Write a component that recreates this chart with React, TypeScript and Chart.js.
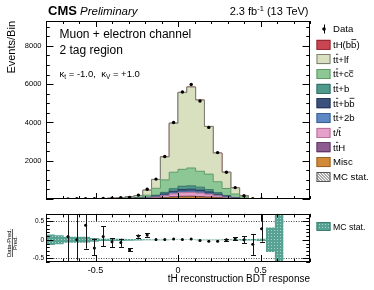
import React, { useEffect, useRef } from 'react';
import { Chart, registerables } from 'chart.js';

Chart.register(...registerables);

const FONT = '"Liberation Sans", Arial, Helvetica, sans-serif';

// ---- binning (categories) ----
const X_MIN = -0.8;
const X_MAX = 0.8;
const N_BINS = 30;

// ---- stacked backgrounds, events per bin (bottom -> top) ----
const misc = [0, 0, 0, 0, 0, 1, 2, 2, 3, 5, 9, 15, 31, 55, 86, 107, 110, 99, 79, 53, 30, 13, 4, 1, 0, 0, 0, 0, 0, 0];
const ttH = [0, 0, 0, 0, 0, 0, 0, 1, 1, 2, 3, 5, 10, 18, 27, 34, 35, 32, 25, 17, 9, 4, 1, 0, 0, 0, 0, 0, 0, 0];
const singleTop = [1, 1, 2, 2, 2, 3, 4, 5, 7, 11, 17, 30, 58, 102, 156, 194, 200, 180, 144, 96, 54, 24, 8, 1, 0, 0, 0, 0, 0, 0];
const tt2b = [0, 0, 0, 0, 0, 1, 1, 1, 2, 4, 6, 10, 20, 35, 55, 68, 70, 63, 50, 34, 19, 8, 3, 0, 0, 0, 0, 0, 0, 0];
const ttbb = [0, 0, 0, 0, 0, 1, 1, 2, 3, 5, 8, 14, 28, 50, 78, 97, 100, 90, 72, 48, 27, 12, 4, 0, 0, 0, 0, 0, 0, 0];
const ttb = [0, 0, 1, 1, 1, 2, 3, 4, 5, 9, 14, 24, 48, 85, 133, 165, 170, 153, 122, 82, 46, 20, 7, 1, 0, 0, 0, 0, 0, 0];
const ttcc = [0, 1, 1, 2, 2, 4, 5, 7, 12, 22, 40, 102, 365, 655, 865, 885, 935, 833, 808, 570, 365, 179, 83, 9, 1, 0.5, 0.3, 0, 0, 0];
const ttlf = [2, 4, 4, 6, 4, 14, 12, 22, 36, 65, 83, 260, 460, 1200, 2560, 4020, 4230, 3720, 2490, 1500, 850, 320, 60, 5, 1.3, 1, 0.7, 0, 0, 0];
const tHbb = [0, 0, 0, 0, 0, 0, 0, 0, 0, 0, 0, 1, 1, 2, 3, 3, 3, 3, 2, 2, 1, 1, 0, 0, 0, 0, 0, 0, 0, 0];

// ---- observed data ----
const dataCounts = [null, null, 8, 10, 12, 20, 30, 42, 65, 82, 205, 510, 1040, 2220, 4000, 5590, 5980, 5120, 3740, 2425, 1400, 595, 170, 15, 3, null, null, null, null, null];

// ---- ratio panel ----
const ratioValues = [null, null, 0.09, 0.0, 0.39, -0.22, 0.09, -0.05, -0.07, -0.27, 0.1, 0.13, 0.01, 0.01, 0.02, 0.01, 0.02, -0.02, -0.04, -0.04, 0.0, 0.03, 0.0, -0.12, 0.3, null, null, null, null, null];
const ratioErrUp = [null, null, 1.5, 1.0, 0.3, 0.25, 0.27, 0.1, 0.1, 0.04, 0.04, 0.045, 0.02, 0.015, 0.012, 0.01, 0.01, 0.012, 0.015, 0.02, 0.03, 0.04, 0.09, 0.28, 1.5, null, null, null, null, null];
const ratioErrDown = [null, null, 1.5, 0.56, 0.63, 0.19, 0.26, 0.15, 0.12, 0.04, 0.04, 0.045, 0.02, 0.015, 0.012, 0.01, 0.01, 0.012, 0.015, 0.02, 0.03, 0.04, 0.09, 0.29, 0.35, null, null, null, null, null];
const mcStatRel = [0.14, 0.12, 0.08, 0.08, 0.08, 0.05, 0.03, 0.03, 0.03, 0.025, 0.02, 0.015, 0.01, 0.01, 0.008, 0.008, 0.008, 0.01, 0.01, 0.01, 0.012, 0.015, 0.02, 0.02, 0.03, 0.33, 0.8, null, null, null];

// ---- tick labels ----
const mainYTicks = [2000, 4000, 6000, 8000];
const ratioXTicks = [-0.5, 0, 0.5];
const ratioYTicks = [-0.5, 0, 0.5];

const binWidth = (X_MAX - X_MIN) / N_BINS;
const binEdge = (i: number) => X_MIN + i * binWidth;
const binCenter = (i: number) => X_MIN + (i + 0.5) * binWidth;

function stepPoints(values: (number | null)[]) {
  const pts: { x: number; y: number }[] = [];
  let last = -1;
  for (let i = 0; i < values.length; i++) {
    const v = values[i];
    if (v == null) continue;
    pts.push({ x: binEdge(i), y: v });
    last = i;
  }
  if (last >= 0) pts.push({ x: binEdge(last + 1), y: values[last] as number });
  return pts;
}

const stackOrder = [
  { label: 'Misc', values: misc, fill: '#d1893a', line: '#9a6128', bars: [] as number[] },
  { label: 'ttH', values: ttH, fill: '#8c5b91', line: '#5f3c64', bars: [1] },
  { label: 't/t', values: singleTop, fill: '#e5a1ca', line: '#b47397', bars: [2] },
  { label: 'tt+2b', values: tt2b, fill: '#5c88c4', line: '#3e6091', bars: [1] },
  { label: 'tt+bb', values: ttbb, fill: '#3b527d', line: '#27375a', bars: [1, 4] },
  { label: 'tt+b', values: ttb, fill: '#4f9a8b', line: '#356e63', bars: [1] },
  { label: 'tt+cc', values: ttcc, fill: '#8ec796', line: '#5f9a67', bars: [1, 4] },
  { label: 'tt+lf', values: ttlf, fill: '#d9e0c0', line: '#7d8076', bars: [1] },
  { label: 'tH(bb)', values: tHbb, fill: '#c94552', line: '#8f2c35', bars: [4] },
];

function drawBarredText(ctx: CanvasRenderingContext2D, text: string, bars: number[], x: number, y: number, fs: number) {
  ctx.fillText(text, x, y);
  ctx.save();
  ctx.lineWidth = 0.8;
  ctx.strokeStyle = '#000';
  for (const i of bars) {
    const x0 = x + ctx.measureText(text.slice(0, i)).width;
    const w = ctx.measureText(text[i]).width;
    const tall = 'tbdhklfBH'.includes(text[i]);
    const yb = y - fs * (tall ? 0.88 : 0.68);
    ctx.beginPath();
    ctx.moveTo(x0 + 0.3, yb);
    ctx.lineTo(x0 + w - 0.2, yb);
    ctx.stroke();
  }
  ctx.restore();
}

function drawInnerTicks(
  ctx: CanvasRenderingContext2D, chart: any,
  xVals: { v: number; major: boolean }[], yVals: { v: number; major: boolean }[],
  xLen: [number, number], yLen: [number, number]
) {
  const a = chart.chartArea;
  const xs = chart.scales.x;
  const ys = chart.scales.y;
  ctx.save();
  ctx.strokeStyle = '#000';
  ctx.lineWidth = 1;
  ctx.beginPath();
  for (const t of xVals) {
    const px = Math.round(xs.getPixelForValue(t.v)) + 0.5;
    const l = t.major ? xLen[0] : xLen[1];
    ctx.moveTo(px, a.bottom); ctx.lineTo(px, a.bottom - l);
    ctx.moveTo(px, a.top); ctx.lineTo(px, a.top + l);
  }
  for (const t of yVals) {
    const py = Math.round(ys.getPixelForValue(t.v)) + 0.5;
    const l = t.major ? yLen[0] : yLen[1];
    ctx.moveTo(a.left, py); ctx.lineTo(a.left + l, py);
    ctx.moveTo(a.right, py); ctx.lineTo(a.right - l, py);
  }
  ctx.stroke();
  ctx.strokeRect(Math.round(a.left) + 0.5, Math.round(a.top) + 0.5, Math.round(a.right - a.left) - 1, Math.round(a.bottom - a.top) - 1);
  ctx.restore();
}

const xTickList = () => {
  const out: { v: number; major: boolean }[] = [];
  for (let k = -8; k <= 8; k++) out.push({ v: k / 10, major: k % 5 === 0 });
  return out;
};

const mainDeco = {
  id: 'mainDeco',
  afterDraw(chart: any) {
    const ctx: CanvasRenderingContext2D = chart.ctx;
    const yList: { v: number; major: boolean }[] = [];
    for (let k = 0; k <= 18; k++) yList.push({ v: k * 500, major: k % 4 === 0 });
    drawInnerTicks(ctx, chart, xTickList(), yList, [6, 3], [7.5, 3.75]);

    ctx.save();
    ctx.fillStyle = '#000';
    ctx.textBaseline = 'alphabetic';
    ctx.textAlign = 'left';
    ctx.font = `bold 13px ${FONT}`;
    ctx.fillText('CMS', 48, 15);
    ctx.font = `italic 11.5px ${FONT}`;
    ctx.fillText('Preliminary', 80, 15);

    // luminosity
    const big = `11px ${FONT}`;
    const small = `7.5px ${FONT}`;
    ctx.font = big;
    const w1 = ctx.measureText('2.3 fb').width;
    const w3 = ctx.measureText(' (13 TeV)').width;
    ctx.font = small;
    const w2 = ctx.measureText('-1').width;
    let lx = 308.5 - (w1 + w2 + w3);
    ctx.font = big; ctx.fillText('2.3 fb', lx, 15); lx += w1;
    ctx.font = small; ctx.fillText('-1', lx, 10.5); lx += w2;
    ctx.font = big; ctx.fillText(' (13 TeV)', lx, 15);

    // in-frame labels
    ctx.font = `12px ${FONT}`;
    ctx.fillText('Muon + electron channel', 59.5, 37.5);
    ctx.fillText('2 tag region', 59.5, 53.5);
    const segs: [string, number, number][] = [
      ['κ', 9.5, 0], ['t', 6.5, 2.5], [' = -1.0,  κ', 9.5, 0], ['V', 6.5, 2.5], [' = +1.0', 9.5, 0],
    ];
    let kx = 59.5;
    for (const [s, f, dy] of segs) {
      ctx.font = `${f}px ${FONT}`;
      ctx.fillText(s, kx, 76.5 + dy);
      kx += ctx.measureText(s).width;
    }

    // legend
    const lf = 9.6;
    ctx.font = `${lf}px ${FONT}`;
    const bx = 316.5;
    const tx = 333;
    // Data
    ctx.beginPath();
    ctx.arc(324, 29, 1.8, 0, Math.PI * 2);
    ctx.fill();
    ctx.beginPath();
    ctx.lineWidth = 1;
    ctx.strokeStyle = '#000';
    ctx.moveTo(324.5, 24.5); ctx.lineTo(324.5, 33.5);
    ctx.stroke();
    ctx.fillText('Data', tx, 29 + lf * 0.35);
    const entries = [...stackOrder].reverse();
    entries.forEach((e, i) => {
      const yc = 30 + (i + 1) * 14.68;
      ctx.fillStyle = e.fill;
      ctx.fillRect(bx, yc - 5, 14, 10);
      ctx.strokeStyle = e.line;
      ctx.lineWidth = 1;
      ctx.strokeRect(bx + 0.5, Math.round(yc - 5) + 0.5, 13, 9);
      ctx.fillStyle = '#000';
      drawBarredText(ctx, e.label, e.bars, tx, yc + lf * 0.35, lf);
    });
    // MC stat hatch
    const yc = 30 + 10 * 14.68;
    const y0 = Math.round(yc - 5);
    ctx.fillStyle = '#fff';
    ctx.fillRect(bx, y0, 14, 10);
    ctx.save();
    ctx.beginPath(); ctx.rect(bx, y0, 14, 10); ctx.clip();
    ctx.strokeStyle = '#333';
    ctx.lineWidth = 0.8;
    ctx.beginPath();
    for (let k = -12; k < 16; k += 3) {
      ctx.moveTo(bx + k, y0); ctx.lineTo(bx + k + 10, y0 + 10);
    }
    ctx.stroke();
    ctx.restore();
    ctx.strokeStyle = '#555';
    ctx.lineWidth = 1;
    ctx.strokeRect(bx + 0.5, y0 + 0.5, 13, 9);
    ctx.fillStyle = '#000';
    ctx.fillText('MC stat.', tx, yc + lf * 0.35);
    ctx.restore();
  },
};

const ratioDeco = {
  id: 'ratioDeco',
  beforeDatasetsDraw(chart: any) {
    const { ctx, chartArea: a, scales } = chart;
    ctx.save();
    ctx.strokeStyle = '#444';
    ctx.lineWidth = 1;
    ctx.setLineDash([1, 1.5]);
    ctx.beginPath();
    for (const v of [0.5, -0.5]) {
      const py = Math.round(scales.y.getPixelForValue(v)) + 0.5;
      ctx.moveTo(a.left, py); ctx.lineTo(a.right, py);
    }
    ctx.stroke();
    ctx.restore();
  },
  afterDatasetsDraw(chart: any) {
    const { ctx, chartArea: a, scales } = chart;
    const xs = scales.x, ys = scales.y;
    ctx.save();
    ctx.beginPath();
    ctx.rect(a.left, a.top, a.right - a.left, a.bottom - a.top);
    ctx.clip();
    ctx.strokeStyle = '#111';
    ctx.lineWidth = 1;
    for (let i = 0; i < N_BINS; i++) {
      const r = ratioValues[i];
      if (r == null) continue;
      const up = ratioErrUp[i] as number, dn = ratioErrDown[i] as number;
      const px = Math.round(xs.getPixelForValue(binCenter(i))) + 0.5;
      const hi = r + up, lo = r - dn;
      const pyHi = ys.getPixelForValue(hi);
      const pyLo = ys.getPixelForValue(lo);
      ctx.beginPath();
      ctx.moveTo(px, pyHi); ctx.lineTo(px, pyLo);
      if (up >= 0.03 && hi <= ys.max) { ctx.moveTo(px - 2.5, Math.round(pyHi) + 0.5); ctx.lineTo(px + 2.5, Math.round(pyHi) + 0.5); }
      if (dn >= 0.03 && lo >= ys.min) { ctx.moveTo(px - 2.5, Math.round(pyLo) + 0.5); ctx.lineTo(px + 2.5, Math.round(pyLo) + 0.5); }
      ctx.stroke();
    }
    ctx.restore();
  },
  afterDraw(chart: any) {
    const ctx: CanvasRenderingContext2D = chart.ctx;
    const yList: { v: number; major: boolean }[] = [];
    for (let k = -6; k <= 7; k++) yList.push({ v: k / 10, major: k % 5 === 0 });
    drawInnerTicks(ctx, chart, xTickList(), yList, [7, 3.5], [7.5, 3.75]);

    ctx.save();
    ctx.fillStyle = '#000';
    ctx.strokeStyle = '#000';
    // rotated fraction title
    const fs = 5.8;
    ctx.translate(12.2, 35);
    ctx.rotate(-Math.PI / 2);
    ctx.font = `${fs}px ${FONT}`;
    ctx.textAlign = 'center';
    ctx.textBaseline = 'alphabetic';
    ctx.fillText('Data-Pred.', 0, -0.8);
    const wn = ctx.measureText('Data-Pred.').width;
    ctx.lineWidth = 0.7;
    ctx.beginPath();
    ctx.moveTo(-wn / 2, 0.2); ctx.lineTo(wn / 2, 0.2);
    ctx.stroke();
    ctx.fillText('Pred.', 0, 5.0);
    ctx.restore();

    // legend for band
    ctx.save();
    const bx = 316.5, by = 14;
    ctx.fillStyle = chart.$bandPattern || '#5aa394';
    ctx.fillRect(bx, by, 14, 9);
    ctx.strokeStyle = '#3d7f72';
    ctx.lineWidth = 1;
    ctx.strokeRect(bx + 0.5, by + 0.5, 13, 8);
    ctx.fillStyle = '#000';
    ctx.font = `8.7px ${FONT}`;
    ctx.textBaseline = 'alphabetic';
    ctx.fillText('MC stat.', 333, 21.5);
    ctx.restore();
  },
};

function makeBandPattern(ctx: CanvasRenderingContext2D) {
  const tile = document.createElement('canvas');
  tile.width = 3;
  tile.height = 3;
  const t = tile.getContext('2d')!;
  t.fillStyle = '#58a294';
  t.fillRect(0, 0, 3, 3);
  t.fillStyle = '#a9d6cb';
  t.fillRect(1, 1, 1, 1);
  return ctx.createPattern(tile, 'repeat');
}

export default function App() {
  const mainRef = useRef<HTMLCanvasElement>(null);
  const ratioRef = useRef<HTMLCanvasElement>(null);

  useEffect(() => {
    const stackDatasets = stackOrder.map((s, idx) => ({
      label: s.label,
      data: stepPoints(s.values),
      stepped: 'before' as const,
      backgroundColor: s.fill,
      borderColor: s.line,
      borderWidth: 1,
      pointRadius: 0,
      fill: idx === 0 ? 'origin' : '-1',
      stack: 'mc',
    }));
    const dataPoints: { x: number; y: number }[] = [];
    dataCounts.forEach((v, i) => { if (v != null) dataPoints.push({ x: binCenter(i), y: v }); });

    const mainChart = new Chart(mainRef.current!, {
      type: 'line',
      data: {
        datasets: [
          {
            label: 'Data',
            data: dataPoints,
            showLine: false,
            pointRadius: 1.7,
            pointBorderWidth: 0,
            pointBackgroundColor: '#000',
            borderColor: '#000',
            stack: 'data',
            fill: false,
          } as any,
          ...(stackDatasets as any[]),
        ],
      },
      options: {
        animation: false,
        responsive: false,
        devicePixelRatio: 1,
        layout: { padding: { top: 21, right: 64, bottom: 5, left: 0 } },
        plugins: { legend: { display: false }, tooltip: { enabled: false } },
        scales: {
          x: { type: 'linear', min: X_MIN, max: X_MAX, display: false },
          y: {
            type: 'linear',
            stacked: true,
            min: 0,
            max: 9300,
            afterFit: (s: any) => { s.width = 46; },
            afterBuildTicks: (s: any) => { s.ticks = mainYTicks.map((v) => ({ value: v })); },
            ticks: { font: { family: FONT, size: 7.5 }, color: '#000', padding: 4.5, callback: (v: any) => String(v) },
            grid: { display: false, drawTicks: false },
            border: { display: false },
            title: {
              display: true,
              text: 'Events/Bin',
              align: 'end',
              color: '#000',
              font: { family: FONT, size: 11 },
              padding: { top: 5, bottom: 0 },
            },
          },
        },
      } as any,
      plugins: [mainDeco],
    });

    const rctx = ratioRef.current!.getContext('2d')!;
    const pattern = makeBandPattern(rctx);
    const ratioPoints: { x: number; y: number }[] = [];
    ratioValues.forEach((v, i) => { if (v != null) ratioPoints.push({ x: binCenter(i), y: v }); });
    const bandLow = mcStatRel.map((e) => (e == null ? null : -e));
    const bandHigh = mcStatRel.map((e) => (e == null ? null : e));

    const ratioChart = new Chart(ratioRef.current!, {
      type: 'line',
      data: {
        datasets: [
          {
            label: 'ratio',
            data: ratioPoints,
            showLine: false,
            pointRadius: 1.5,
            pointBorderWidth: 0,
            pointBackgroundColor: '#000',
            borderColor: '#000',
            fill: false,
          },
          {
            label: 'bandLow',
            data: stepPoints(bandLow),
            stepped: 'before',
            borderColor: 'rgba(0,0,0,0)',
            pointRadius: 0,
            fill: false,
          },
          {
            label: 'MC stat.',
            data: stepPoints(bandHigh),
            stepped: 'before',
            borderColor: 'rgba(0,0,0,0)',
            backgroundColor: pattern as any,
            pointRadius: 0,
            fill: '-1',
          },
        ] as any,
      },
      options: {
        animation: false,
        responsive: false,
        devicePixelRatio: 1,
        layout: { padding: { top: 4.7, right: 64, bottom: 0, left: 0 } },
        plugins: { legend: { display: false }, tooltip: { enabled: false } },
        scales: {
          x: {
            type: 'linear',
            min: X_MIN,
            max: X_MAX,
            afterFit: (s: any) => { s.height = 28; },
            afterBuildTicks: (s: any) => { s.ticks = ratioXTicks.map((v) => ({ value: v })); },
            ticks: { font: { family: FONT, size: 9 }, color: '#000', padding: 3, maxRotation: 0, callback: (v: any) => String(v) },
            grid: { display: false, drawTicks: false },
            border: { display: false },
            title: {
              display: true,
              text: 'tH reconstruction BDT response',
              align: 'end',
              color: '#000',
              font: { family: FONT, size: 10 },
              padding: { top: 0, bottom: 5 },
            },
          },
          y: {
            type: 'linear',
            min: -0.6,
            max: 0.7,
            afterFit: (s: any) => { s.width = 46; },
            afterBuildTicks: (s: any) => { s.ticks = ratioYTicks.map((v) => ({ value: v })); },
            ticks: { font: { family: FONT, size: 6.5 }, color: '#000', padding: 2, callback: (v: any) => String(v) },
            grid: { display: false, drawTicks: false },
            border: { display: false },
          },
        },
      } as any,
      plugins: [ratioDeco],
    });
    (ratioChart as any).$bandPattern = pattern;
    ratioChart.draw();

    return () => {
      mainChart.destroy();
      ratioChart.destroy();
    };
  }, []);

  return (
    <div style={{ position: 'absolute', left: 0, top: 0, width: 374, height: 290, background: '#fff' }}>
      <canvas ref={mainRef} width={374} height={208} style={{ position: 'absolute', left: 0, top: 0, width: 374, height: 208 }} />
      <canvas ref={ratioRef} width={374} height={82} style={{ position: 'absolute', left: 0, top: 208, width: 374, height: 82 }} />
    </div>
  );
}
